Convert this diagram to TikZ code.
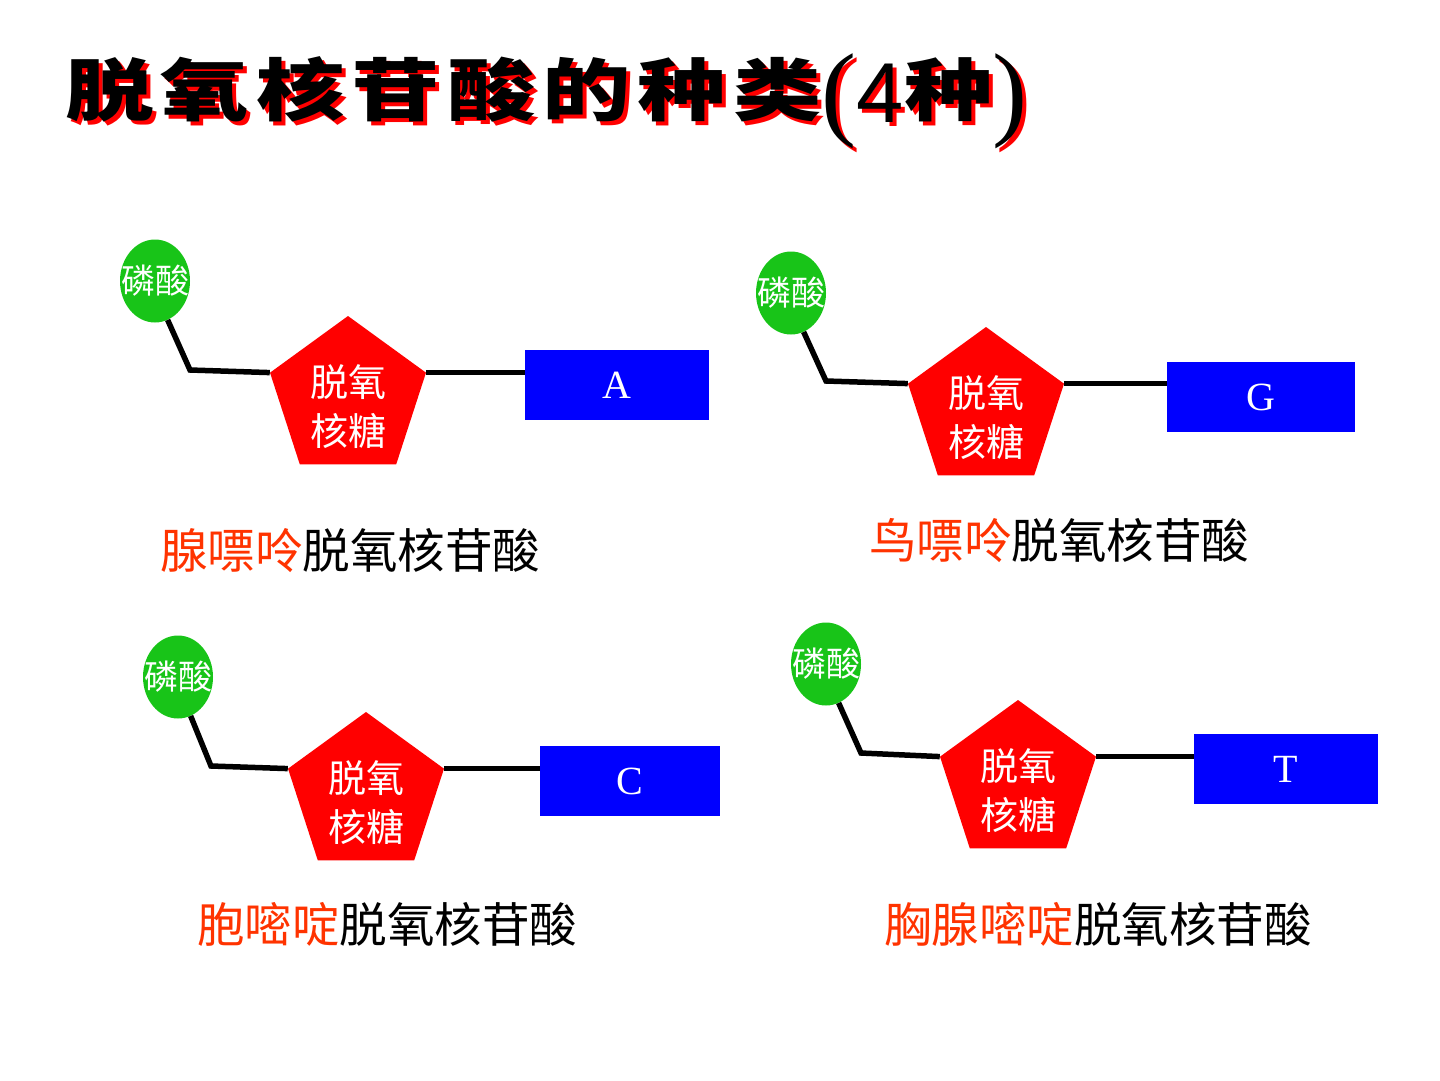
\documentclass[tikz,border=0pt]{standalone}
\usepackage{fontspec}
\setmainfont{Liberation Serif}
\newfontfamily\cjk{Noto Sans CJK SC}
\newfontfamily\cjktitle[LetterSpace=8]{Noto Sans CJK SC}
\newfontfamily\titlesans{Liberation Sans}
\usetikzlibrary{shapes.geometric}
\definecolor{phgreen}{RGB}{24,196,24}
\definecolor{sugarred}{RGB}{255,0,0}
\definecolor{baseblue}{RGB}{0,0,255}
\definecolor{namered}{RGB}{255,51,0}
\newcommand{\titlecontent}{%
  {\cjktitle\bfseries\fontsize{68}{68}\selectfont\scalebox{1.3}[1]{脱氧核苷酸的种类}}%
  \raisebox{-11pt}{\fontsize{105}{105}\selectfont(}%
  \raisebox{-7pt}{\titlesans\fontsize{85}{85}\selectfont 4}%
  {\cjktitle\bfseries\fontsize{68}{68}\selectfont\scalebox{1.3}[1]{种}}%
  \raisebox{-11pt}{\fontsize{105}{105}\selectfont)}}
\tikzset{
  phos/.style={ellipse, fill=phgreen, minimum width=70pt, minimum height=83pt, inner sep=0pt,
    text=white, font=\cjk\fontsize{34}{34}\selectfont},
  sugar/.style={regular polygon, regular polygon sides=5, fill=sugarred, minimum size=164pt, inner sep=0pt},
  sugartext/.style={text=white, align=center, inner sep=0pt, font=\cjk\fontsize{38}{49}\selectfont},
  basebox/.style={rectangle, fill=baseblue, minimum height=70pt, inner sep=0pt,
    text=white, font=\fontsize{40}{40}\selectfont},
  bond/.style={line width=5.5pt, black, line join=miter},
  namelabel/.style={font=\cjk\fontsize{47.5}{47.5}\selectfont, inner sep=0pt, anchor=center},
  titletext/.style={inner sep=0pt, anchor=base west}
}
\begin{document}
\begin{tikzpicture}[x=1pt,y=-1pt]
\useasboundingbox (0,0) rectangle (1440,1080);
% title with red shadow
\node[titletext, text=sugarred] (titleshadow) at (69,119) {\titlecontent};
\node[titletext, text=black] (title) at (65,115) {\titlecontent};

% diagram 1
\node[phos] (p1) at (155,281) {\makebox[0pt]{磷酸}};
\coordinate (k1) at (190,370);
\node[sugar] (s1) at (348,398) {};
\node[sugartext] (t1) at ([yshift=-9pt]s1.center) {脱氧\\核糖};
\node[basebox, minimum width=184pt] (b1) at (617,385) {A};
\draw[bond] (p1.-72) -- (k1) -- (s1.corner 2);
\draw[bond] (s1.corner 5) -- (b1.west |- s1.corner 5);
\node[namelabel] (n1) at (350,551) {\textcolor{namered}{腺嘌呤}脱氧核苷酸};

% diagram 2
\node[phos] (p2) at (791,293) {\makebox[0pt]{磷酸}};
\coordinate (k2) at (826,381);
\node[sugar] (s2) at (986,409) {};
\node[sugartext] (t2) at ([yshift=-9pt]s2.center) {脱氧\\核糖};
\node[basebox, minimum width=188pt] (b2) at (1261,397) {G};
\draw[bond] (p2.-72) -- (k2) -- (s2.corner 2);
\draw[bond] (s2.corner 5) -- (b2.west |- s2.corner 5);
\node[namelabel] (n2) at (1059,541) {\textcolor{namered}{鸟嘌呤}脱氧核苷酸};

% diagram 3
\node[phos] (p3) at (178,677) {\makebox[0pt]{磷酸}};
\coordinate (k3) at (211,766);
\node[sugar] (s3) at (366,794) {};
\node[sugartext] (t3) at ([yshift=-9pt]s3.center) {脱氧\\核糖};
\node[basebox, minimum width=180pt] (b3) at (630,781) {C};
\draw[bond] (p3.-72) -- (k3) -- (s3.corner 2);
\draw[bond] (s3.corner 5) -- (b3.west |- s3.corner 5);
\node[namelabel] (n3) at (387,924) {\textcolor{namered}{胞嘧啶}脱氧核苷酸};

% diagram 4
\node[phos] (p4) at (826,664) {\makebox[0pt]{磷酸}};
\coordinate (k4) at (861,753);
\node[sugar] (s4) at (1018,782) {};
\node[sugartext] (t4) at ([yshift=-9pt]s4.center) {脱氧\\核糖};
\node[basebox, minimum width=184pt] (b4) at (1286,769) {T};
\draw[bond] (p4.-72) -- (k4) -- (s4.corner 2);
\draw[bond] (s4.corner 5) -- (b4.west |- s4.corner 5);
\node[namelabel] (n4) at (1098,924) {\textcolor{namered}{胸腺嘧啶}脱氧核苷酸};
\end{tikzpicture}
\end{document}
